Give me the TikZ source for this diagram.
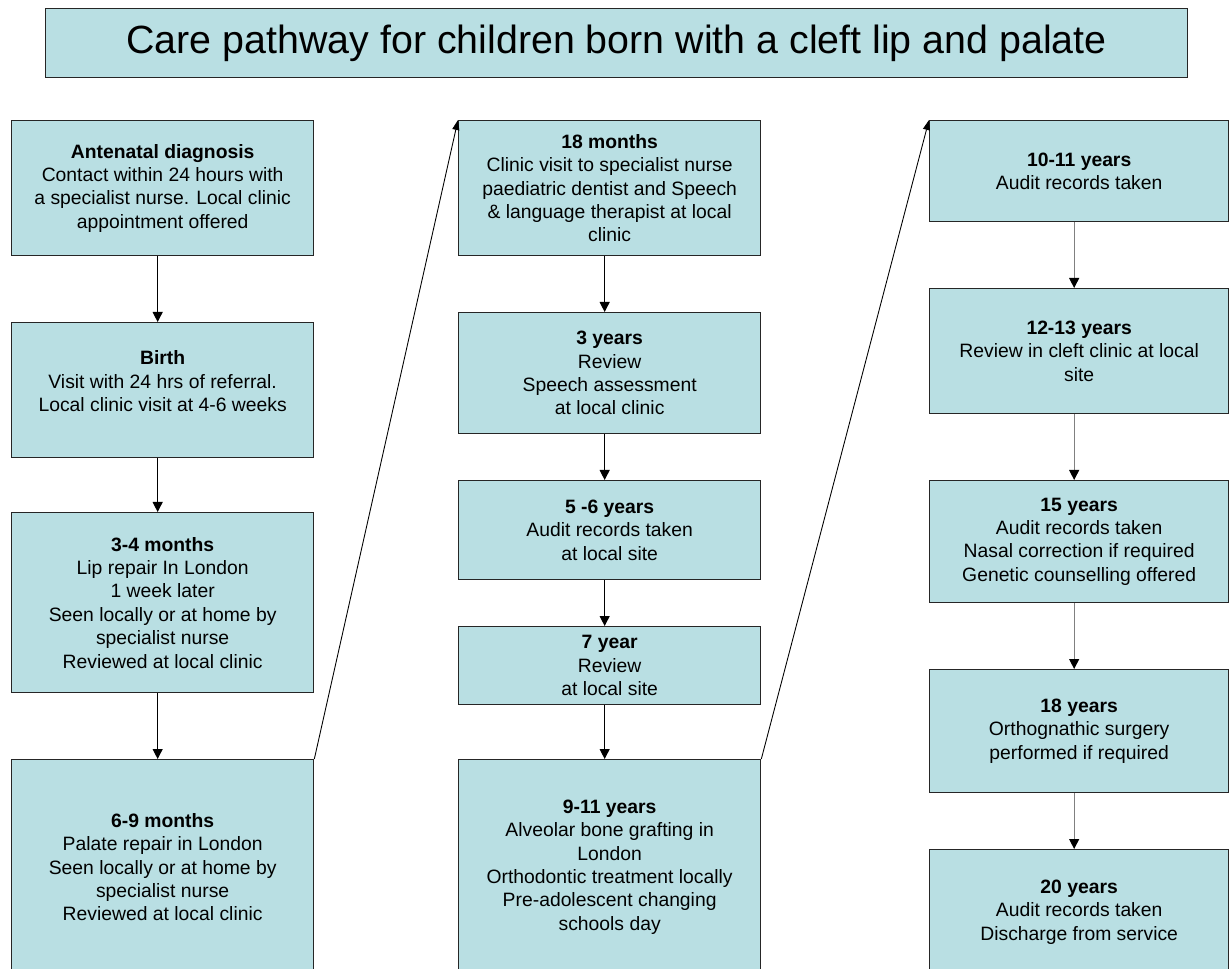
\documentclass[tikz,border=0pt]{standalone}
\usepackage{fontspec}
\setmainfont{Liberation Sans}
\usepackage{tikz}
\usetikzlibrary{arrows.meta,positioning}
\definecolor{cleftblue}{RGB}{185,223,227}

\tikzset{
  stage/.style={draw=black!85, fill=cleftblue, line width=0.75pt, anchor=north west,
    minimum width=6.04cm, inner sep=2pt, align=center,
    font=\fontsize{11}{13.3}\selectfont},
  stagec/.style={stage, minimum width=5.98cm},
  arr/.style={line width=0.6pt, -{Triangle[length=0.2cm,width=0.2cm]}},
  greyarr/.style={line width=0.6pt, draw=black!50, -{Triangle[length=0.2cm,width=0.2cm,color=black]}},
  jump/.style={line width=0.5pt, -{Triangle[length=0.2cm,width=0.14cm]}}
}

\begin{document}
\begin{tikzpicture}
    \pgfmathsetmacro{\colA}{0.22}
    \pgfmathsetmacro{\colB}{9.16}
    \pgfmathsetmacro{\colC}{18.58}
    \pgfmathsetmacro{\off}{0.1}

    \useasboundingbox (0,0) rectangle (24.62,-19.38);

    \node[draw=black!85, fill=cleftblue, line width=0.75pt, anchor=north west,
      minimum width=22.84cm, minimum height=1.38cm,
      font=\fontsize{22.4}{26}\selectfont] (title) at (0.90,-0.16)
      {Care pathway for children born with a cleft lip and palate};

    % first column
    \node[stage, minimum height=2.70cm] (a1) at (\colA,-2.40)
      {\textbf{Antenatal diagnosis}\\Contact within 24 hours with\\a specialist nurse. Local clinic\\appointment offered};
    \node[stage, minimum height=2.70cm] (a2) at (\colA,-6.44)
      {\textbf{Birth}\\Visit with 24 hrs of referral.\\Local clinic visit at 4-6 weeks\\[-3pt]};
    \node[stage, minimum height=3.60cm] (a3) at (\colA,-10.24)
      {\textbf{3-4 months}\\Lip repair In London\\1 week later\\Seen locally or at home by\\specialist nurse\\Reviewed at local clinic};
    \node[stage, minimum height=4.30cm] (a4) at (\colA,-15.18)
      {\textbf{6-9 months}\\Palate repair in London\\Seen locally or at home by\\specialist nurse\\Reviewed at local clinic};

    % second column
    \node[stage, minimum height=2.70cm] (b1) at (\colB,-2.40)
      {\textbf{18 months}\\Clinic visit to specialist nurse\\paediatric dentist and Speech\\\& language therapist at local\\clinic};
    \node[stage, minimum height=2.42cm] (b2) at (\colB,-6.24)
      {\textbf{3 years}\\Review\\Speech assessment\\at local clinic};
    \node[stage, minimum height=1.98cm] (b3) at (\colB,-9.60)
      {\textbf{5 -6 years}\\Audit records taken\\at local site};
    \node[stage, minimum height=1.56cm] (b4) at (\colB,-12.52)
      {\textbf{7 year}\\Review\\at local site};
    \node[stage, minimum height=4.30cm] (b5) at (\colB,-15.18)
      {\textbf{9-11 years}\\Alveolar bone grafting in\\London\\Orthodontic treatment locally\\Pre-adolescent changing\\schools day};

    % third column
    \node[stagec, minimum height=2.02cm] (c1) at (\colC,-2.40)
      {\textbf{10-11 years}\\Audit records taken};
    \node[stagec, minimum height=2.50cm] (c2) at (\colC,-5.76)
      {\textbf{12-13 years}\\Review in cleft clinic at local\\site};
    \node[stagec, minimum height=2.44cm] (c3) at (\colC,-9.60)
      {\textbf{15 years}\\Audit records taken\\Nasal correction if required\\Genetic counselling offered};
    \node[stagec, minimum height=2.46cm] (c4) at (\colC,-13.38)
      {\textbf{18 years}\\Orthognathic surgery\\performed if required};
    \node[stagec, minimum height=2.50cm] (c5) at (\colC,-16.98)
      {\textbf{20 years}\\Audit records taken\\Discharge from service};

    \foreach \i/\j in {a1/a2,a2/a3,a3/a4,b1/b2,b2/b3,b3/b4,b4/b5}
      \draw[arr] ([xshift=-\off cm]\i.south) -- ([xshift=-\off cm]\j.north);
    \foreach \i/\j in {c1/c2,c2/c3,c3/c4,c4/c5}
      \draw[greyarr] ([xshift=-\off cm]\i.south) -- ([xshift=-\off cm]\j.north);

    % on to the next column
    \draw[jump] (a4.north east) -- (b1.north west);
    \draw[jump] (b5.north east) -- (c1.north west);
\end{tikzpicture}
\end{document}
